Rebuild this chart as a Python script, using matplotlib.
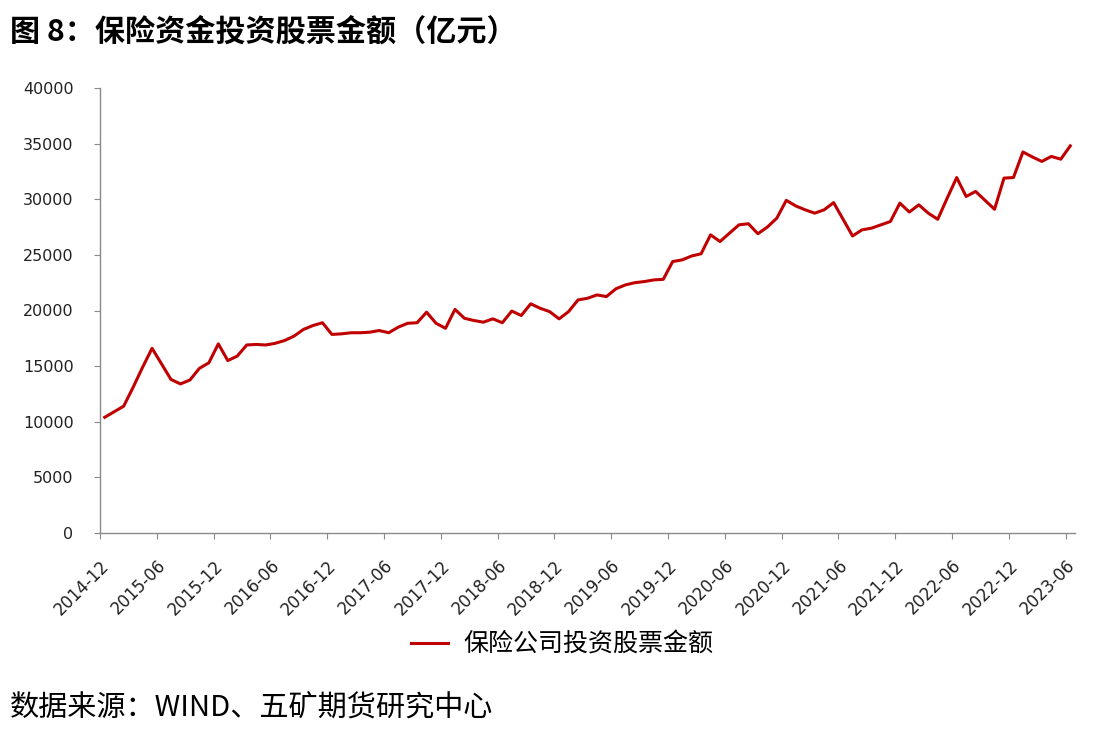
import numpy as np
import matplotlib
matplotlib.use("Agg")
import matplotlib.pyplot as plt

plt.rcParams['font.family'] = ['Noto Sans CJK SC', 'DejaVu Sans']

title = "图 8：保险资金投资股票金额（亿元）"
source = "数据来源：WIND、五矿期货研究中心"
series_name = "保险公司投资股票金额"

# monthly values 2014-12 .. 2023-06
values = [
    10400, 10900, 11400, 13100, 14900, 16600, 15200, 13800, 13400, 13750,
    14800, 15300, 17000, 15500, 15900, 16900, 16950, 16900, 17050, 17300,
    17700, 18300, 18650, 18900, 17850, 17900, 18000, 18000, 18050, 18200,
    18000, 18500, 18850, 18900, 19850, 18850, 18400, 20100, 19300, 19100,
    18950, 19250, 18900, 19950, 19550, 20600, 20200, 19900, 19250, 19900,
    20950, 21100, 21400, 21250, 21950, 22300, 22500, 22600, 22750, 22800,
    24400, 24550, 24900, 25100, 26800, 26200, 26950, 27700, 27800, 26900,
    27500, 28300, 29900, 29400, 29050, 28750, 29050, 29700, 28200, 26700,
    27250, 27400, 27700, 28000, 29650, 28850, 29500, 28750, 28200, 30100,
    31950, 30250, 30700, 29900, 29100, 31900, 31950, 34250, 33800, 33400,
    33850, 33600, 34800,
]
tick_labels = ["2014-12", "2015-06", "2015-12", "2016-06", "2016-12", "2017-06",
               "2017-12", "2018-06", "2018-12", "2019-06", "2019-12", "2020-06",
               "2020-12", "2021-06", "2021-12", "2022-06", "2022-12", "2023-06"]
yticks = [0, 5000, 10000, 15000, 20000, 25000, 30000, 35000, 40000]

fig = plt.figure(figsize=(10.96, 7.32), dpi=100)
fig.patch.set_facecolor('white')
ax = fig.add_axes([100/1096, 1-533/732, 975/1096, 445/732])

x = np.arange(len(values)) + 0.5
line, = ax.plot(x, values, color='#C00000', lw=2.2, label=series_name)

ax.set_xlim(0, len(values))
ax.set_ylim(0, 40000)
ax.set_yticks(yticks)
ax.set_yticklabels([str(v) for v in yticks], family='DejaVu Sans', fontsize=11.5, color='#222222')
ax.set_xticks(np.arange(0, len(values), 6))
ax.set_xticklabels(tick_labels, rotation=45, ha='right', va='top', rotation_mode='anchor',
                   family='DejaVu Sans', fontsize=12, color='#222222')

for s in ['top', 'right']:
    ax.spines[s].set_visible(False)
for s in ['left', 'bottom']:
    ax.spines[s].set_color('#8a8a8a')
    ax.spines[s].set_linewidth(1.0)
ax.tick_params(axis='y', direction='out', length=4, color='#8a8a8a', pad=15)
ax.tick_params(axis='x', direction='out', length=4, color='#8a8a8a', pad=13)

fig.legend(handles=[line], loc='center', bbox_to_anchor=(0.513, 0.119), frameon=False,
           prop={'family': 'Noto Sans CJK SC', 'size': 18}, handlelength=1.5, handletextpad=0.6)

fig.text(10/1096, 1-32/732, title, fontsize=21.7, fontweight='bold', va='center', ha='left', color='black')
fig.text(10/1096, 1-708/732, source, fontsize=21, va='center', ha='left', color='black')

fig.savefig('out.png', dpi=100, facecolor='white')
